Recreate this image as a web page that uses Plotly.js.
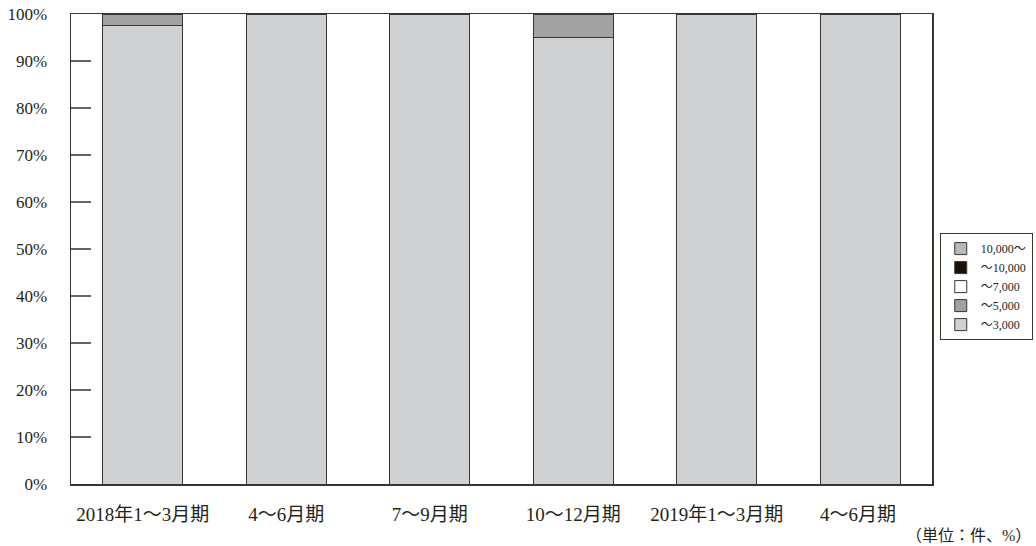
<!DOCTYPE html>
<html>
<head>
<meta charset="utf-8">
<script src="https://cdn.plot.ly/plotly-3.0.1.min.js"></script>
<style>html,body{margin:0;padding:0;background:#fff;}#chart{width:1036px;height:546px;}</style>
</head>
<body>
<div id="chart"></div>
<script>
const categories = ["2018年1～3月期", "4～6月期", "7～9月期", "10～12月期", "2019年1～3月期", "4～6月期 "];
const seriesNames = ["～3,000", "～5,000", "～7,000", "～10,000", "10,000～"];
const s3000 = [97.6, 100, 100, 95.1, 100, 100];
const s5000 = [2.4, 0, 0, 4.9, 0, 0];
const s7000 = [0, 0, 0, 0, 0, 0];
const s10000 = [0, 0, 0, 0, 0, 0];
const sOver = [0, 0, 0, 0, 0, 0];
const colors = ["#d0d1d3", "#a2a2a3", "#ffffff", "#1a1208", "#b8b8ba"];
const yTicks = [0, 10, 20, 30, 40, 50, 60, 70, 80, 90, 100];
const yTickText = yTicks.map(v => v + "%");

const values = [s3000, s5000, s7000, s10000, sOver];
const FONT = "'Liberation Serif', 'Noto Sans CJK JP', serif";
const traces = values.map((v, i) => ({
  type: "bar",
  name: seriesNames[i],
  x: categories,
  y: v,
  marker: {color: colors[i], line: {color: "#3a352e", width: 1}},
  hoverinfo: "x+y+name"
}));

const layout = {
  width: 1036, height: 546,
  margin: {l: 71, r: 104, t: 14, b: 62, autoexpand: false},
  paper_bgcolor: "#fff", plot_bgcolor: "#fff",
  barmode: "stack",
  bargap: 0.443,
  showlegend: true,
  font: {family: FONT, size: 15, color: "#231f1a"},
  xaxis: {
    type: "category",
    showline: true, linecolor: "#3a352e", linewidth: 1.5, mirror: true,
    ticks: "", showgrid: false, zeroline: false,
    ticklabelstandoff: 13,
    tickfont: {family: FONT, size: 19, color: "#231f1a"}
  },
  yaxis: {
    range: [0, 100],
    tickvals: yTicks, ticktext: yTickText,
    ticks: "inside", ticklen: 20, tickcolor: "#6a655e", tickwidth: 1.5,
    showline: true, linecolor: "#3a352e", linewidth: 1.5, mirror: true,
    showgrid: false, zeroline: false,
    ticklabelstandoff: 19,
    tickfont: {family: FONT, size: 17, color: "#231f1a"}
  },
  legend: {
    x: 1.009, xanchor: "left", y: 0.42, yanchor: "middle",
    traceorder: "reversed",
    bordercolor: "#3a352e", borderwidth: 1, bgcolor: "#fff",
    font: {family: FONT, size: 12, color: "#231f1a"},
    itemwidth: 30
  },
  annotations: [{
    text: "（単位：件、%）", xref: "paper", yref: "paper",
    x: 1.0, y: -0.11, xanchor: "right", yanchor: "middle", xshift: 101,
    showarrow: false, font: {family: FONT, size: 16, color: "#231f1a"}
  }]
};

Plotly.newPlot("chart", traces, layout, {displayModeBar: false, staticPlot: true});
</script>
</body>
</html>
